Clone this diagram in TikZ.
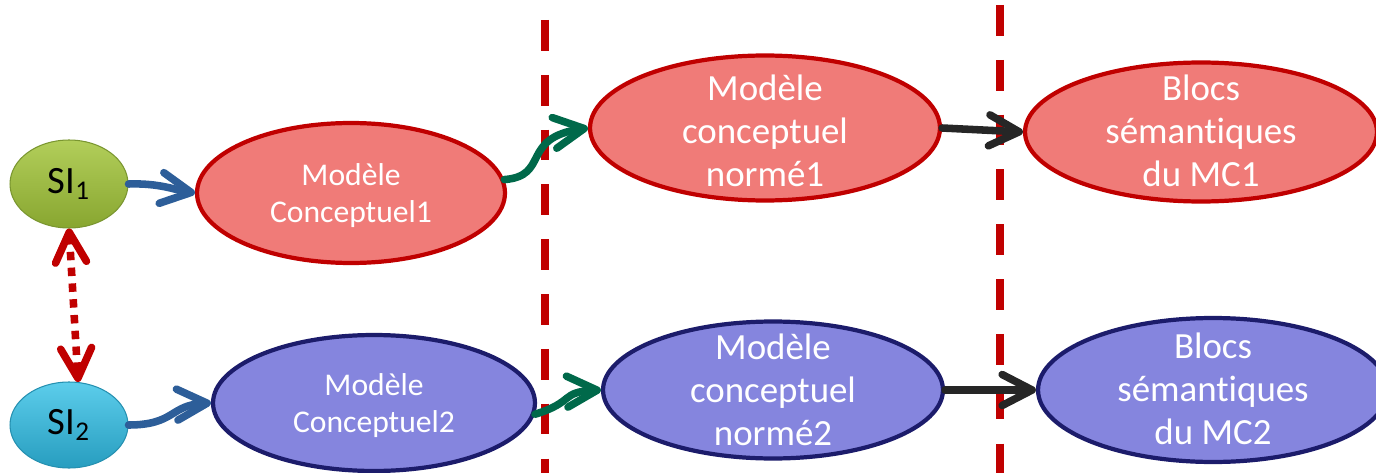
\documentclass[tikz,border=0pt]{standalone}
\usepackage{fontspec}
\setmainfont[Ligatures=NoCommon]{Carlito}
\usetikzlibrary{arrows.meta,shapes.geometric}
\definecolor{salmon}{HTML}{F07B78}
\definecolor{darkred}{HTML}{C00000}
\definecolor{lilac}{HTML}{8585DE}
\definecolor{navy}{HTML}{1C1C6B}
\definecolor{arrgreen}{HTML}{00694A}
\definecolor{arrblue}{HTML}{2D5E99}
\definecolor{arrblack}{HTML}{262626}
\definecolor{sigreentop}{HTML}{B2CE5A}
\definecolor{sigreenbot}{HTML}{88A630}
\definecolor{sigreenedge}{HTML}{7A9630}
\definecolor{sicyantop}{HTML}{5CCDEB}
\definecolor{sicyanbot}{HTML}{279DBF}
\definecolor{sicyanedge}{HTML}{2590B0}
\tikzset{
  chev/.tip={Straight Barb[length=6mm,width=6.2mm,round]},
  oval/.style={ellipse, inner sep=0pt, line width=2.4pt},
  redoval/.style={oval, draw=darkred, fill=salmon},
  blueoval/.style={oval, draw=navy, fill=lilac},
  sioval/.style={ellipse, minimum width=2.36cm, inner sep=0pt, line width=0.6pt,
                 font=\fontsize{22}{24}\selectfont},
  lbl/.style={text=white, align=center, inner sep=0pt},
  smalllbl/.style={lbl, font=\fontsize{18}{21}\selectfont},
  biglbl/.style={lbl, font=\fontsize{21}{24.5}\selectfont},
  barb/.style={-chev, line width=4.3pt, line cap=round},
  sepline/.style={draw=darkred, line width=4.5pt, dash pattern=on 17.5pt off 13.7pt},
}
\begin{document}
\begin{tikzpicture}[x=0.02cm,y=-0.02cm]
\useasboundingbox (0,0) rectangle (1376,473);
\clip (0,0) rectangle (1376,473);

% separators
\coordinate (s1top) at (545,20);
\coordinate (s1bot) at (545,480);
\coordinate (s2top) at (1000,5);
\coordinate (s2bot) at (1000,480);
\draw[sepline] (s1top) -- (s1bot);
\draw[sepline] (s2top) -- (s2bot);

% SI nodes
\node[sioval, minimum height=1.76cm, draw=sigreenedge, top color=sigreentop, bottom color=sigreenbot]
  (si1) at (69,184) {SI\textsubscript{1}};
\node[sioval, minimum height=1.72cm, draw=sicyanedge, top color=sicyantop, bottom color=sicyanbot]
  (si2) at (69,425) {SI\textsubscript{2}};

% model ellipses
\node[redoval, minimum width=6.16cm, minimum height=2.8cm] (mc1) at (351,193) {};
\node[smalllbl] (mc1t) at (351,196) {Modèle\\Conceptuel1};
\node[blueoval, minimum width=6.44cm, minimum height=2.72cm] (mc2) at (374,403) {};
\node[smalllbl] (mc2t) at (374,406) {Modèle\\Conceptuel2};

\node[redoval, minimum width=7.0cm, minimum height=2.9cm] (mcn1) at (765,128) {};
\node[biglbl] (mcn1t) at (765,131) {Modèle\\conceptuel\\normé1};
\node[redoval, minimum width=7.04cm, minimum height=2.78cm] (bs1) at (1201,132) {};
\node[biglbl] (bs1t) at (1201,131) {Blocs\\sémantiques\\du MC1};

\node[blueoval, minimum width=6.8cm, minimum height=2.74cm] (mcn2) at (773,390) {};
\node[biglbl] (mcn2t) at (773,390) {Modèle\\conceptuel\\normé2};
\node[blueoval, minimum width=7.0cm, minimum height=2.88cm] (bs2) at (1213,390) {};
\node[biglbl] (bs2t) at (1213,389) {Blocs\\sémantiques\\du MC2};

% connectors
\draw[barb, arrblue] (si1.east) .. controls (160,183) and (175,190) .. (mc1.west);
\draw[barb, arrblue] (si2.east) .. controls (175,425) and (170,405) .. (mc2.west);
\draw[barb, arrgreen] (mc1.5) .. controls (550,176) and (520,138) .. (mcn1.west);
\draw[barb, arrgreen] (mc2.-4) .. controls (575,402) and (560,392) .. (mcn2.west);
\draw[barb, arrblack] (mcn1.east) -- (bs1.west);
\draw[barb, arrblack] (mcn2.east) -- (bs2.west);
\draw[chev-chev, darkred, line width=4.3pt, dash pattern=on 4.8pt off 4.2pt]
  (si1.south) -- (si2.78);
\end{tikzpicture}
\end{document}
